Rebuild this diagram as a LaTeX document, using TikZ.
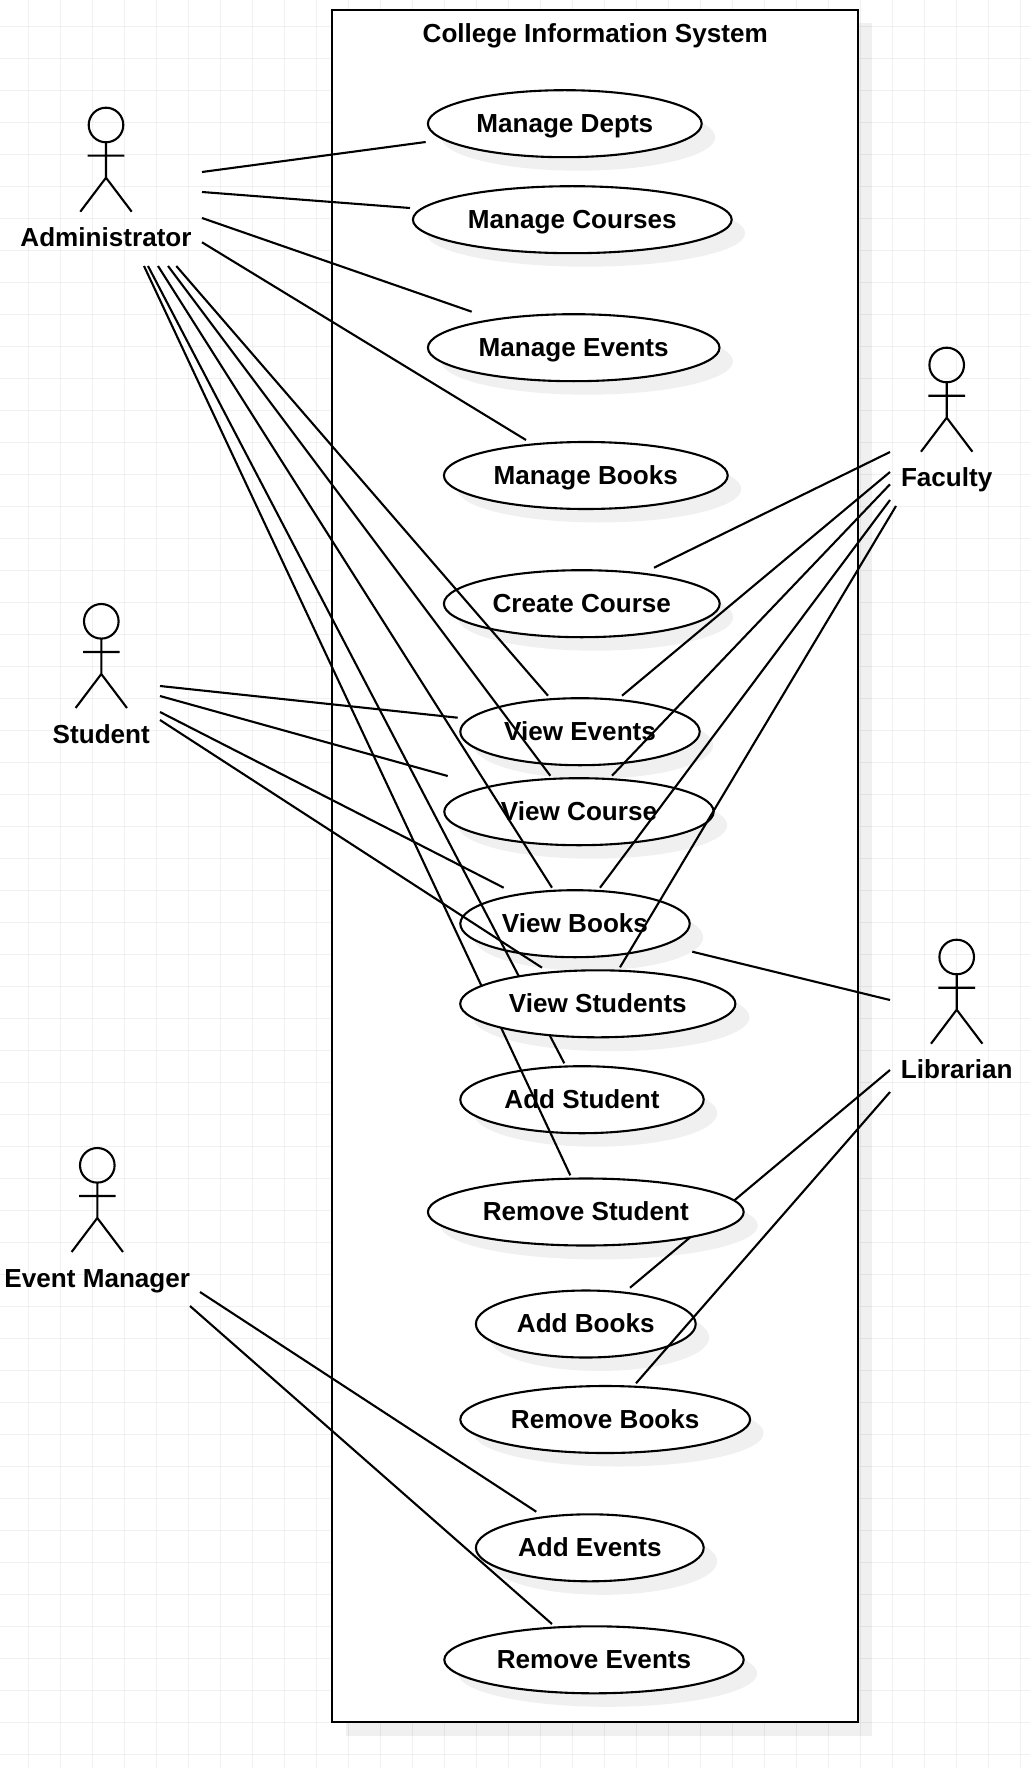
\documentclass[tikz,border=0pt]{standalone}
\usepackage{fontspec}
\setmainfont{Liberation Sans}
\usetikzlibrary{shapes.geometric,shadows}
\definecolor{gridc}{HTML}{F0F0F0}
\tikzset{
  lw/.style={line width=2.1pt,draw=black},
  uc/.style={ellipse,lw,fill=white,inner sep=0pt,outer sep=0pt,font=\fontsize{26.1}{30}\selectfont\bfseries,text height=17pt,text depth=0pt,minimum height=67pt},
  ucshadow/.style={drop shadow={shadow xshift=13.5pt,shadow yshift=-13.5pt,fill=black,opacity=.06}},
  link/.style={lw,line cap=butt},
  actorlabel/.style={inner sep=0pt,font=\fontsize{26.1}{30}\selectfont\bfseries,text height=17pt,text depth=0pt},
  head/.style={circle,lw,inner sep=0pt,outer sep=0pt,minimum size=34.6pt},
}
\newcommand{\usecasenode}[6][]{\node[uc,#1,minimum width={2*#5-1.2}] (#2) at (#3,#4) {#6};}
\newcommand{\usecasenoshadow}[4]{\fill[black,opacity=.06] (#2+13.5,#3+13.5) ellipse [x radius=#4,y radius=33.9];}
\newcommand{\actornode}[4]{%
  \node[head] (#1) at (#2,#3) {};
  \coordinate (#1-hip) at (#2,#3+52.7);
  \coordinate (#1-al) at (#2-18.3,#3+30.7);
  \coordinate (#1-ar) at (#2+18.3,#3+30.7);
  \coordinate (#1-fl) at (#2-25.7,#3+86.7);
  \coordinate (#1-fr) at (#2+25.7,#3+86.7);
  \draw[link] (#1.south) -- (#1-hip) (#1-al) -- (#1-ar) (#1-fl) -- (#1-hip) -- (#1-fr);
  \node[actorlabel] (#1-label) at (#2,#3+113.4) {#4};
}
\newcommand{\linkfrom}[5]{%
  \coordinate (#1a) at (#2,#3);
  \coordinate (#1b) at (#4,#5);
  \draw[link] (#1a) -- (#1b);
}
\begin{document}
\begin{tikzpicture}[x=1pt,y=-1pt]
\useasboundingbox (0,0) rectangle (1030,1768);
\fill[white] (0,0) rectangle (1030,1768);
% grid
\foreach \i in {0,...,31} \draw[gridc,line width=1pt] ({28.7+32*\i},0) -- ({28.7+32*\i},1768);
\foreach \i in {0,...,55} \draw[gridc,line width=1pt] (0,{26.7+32*\i}) -- (1030,{26.7+32*\i});
% system box
\fill[black,opacity=.06] (345.5,23.5) rectangle (872,1736);
\node[lw,fill=white,rectangle,inner sep=0pt,outer sep=0pt,minimum width=525.7pt,minimum height=1712pt] (system) at (595.15,866) {};
\node[inner sep=0pt,font=\fontsize{26.1}{30}\selectfont\bfseries,text height=17pt,text depth=0pt] (title) at (595.25,34) {College Information System};
% use cases under the connectors
\usecasenode[ucshadow]{depts}{564.8}{123.7}{137.5}{Manage Depts}
\usecasenode[ucshadow]{courses}{572.3}{219.7}{160}{Manage Courses}
\usecasenode[ucshadow]{mevents}{573.7}{347.7}{146.4}{Manage Events}
\usecasenode[ucshadow]{mbooks}{585.8}{475.5}{142.5}{Manage Books}
\usecasenode[ucshadow]{create}{581.8}{603.7}{138.5}{Create Course}
\usecasenode[ucshadow]{vevents}{580}{731.7}{120.3}{View Events}
\usecasenode[ucshadow]{vcourse}{579}{811.7}{135.3}{View Course}
\usecasenode[ucshadow]{vbooks}{575}{923.7}{115.3}{View Books}
\usecasenoshadow{vstudents}{597.8}{1003.8}{138.2}
\usecasenode[ucshadow]{astudent}{582}{1099.7}{122.3}{Add Student}
\usecasenoshadow{rstudent}{585.8}{1212}{158.5}
\usecasenode[ucshadow]{abooks}{585.8}{1324}{110.5}{Add Books}
\usecasenode[ucshadow]{rbooks}{605.2}{1419.5}{145.5}{Remove Books}
\usecasenode[ucshadow]{aevents}{589.8}{1547.8}{114.5}{Add Events}
\usecasenode[ucshadow]{revents}{594}{1659.8}{150.3}{Remove Events}
% actors
\actornode{admin}{106}{125}{Administrator}
\actornode{student}{101.3}{621.3}{Student}
\actornode{evmgr}{97.3}{1165.3}{Event Manager}
\actornode{faculty}{946.7}{365}{Faculty}
\actornode{librarian}{956.7}{957}{Librarian}
% connectors
\linkfrom{a1}{202}{172}{425.7}{142}
\linkfrom{a2}{202}{192}{410}{208}
\linkfrom{a3}{202}{218}{471.7}{311.7}
\linkfrom{a4}{202}{242.3}{526}{440}
\linkfrom{a5}{176.3}{266}{548}{695.7}
\linkfrom{a6}{168}{266}{550.3}{775.7}
\linkfrom{a7}{158}{266}{552}{887.7}
\linkfrom{a8}{148}{266}{564.3}{1063.3}
\linkfrom{a9}{144}{266}{570.3}{1175.3}
\linkfrom{s1}{160}{686}{457.7}{717.7}
\linkfrom{s2}{160}{696}{447.7}{776}
\linkfrom{s3}{160}{712}{503.7}{887.7}
\linkfrom{s4}{160}{720}{542}{967.7}
\linkfrom{f1}{890}{452}{654}{567.7}
\linkfrom{f2}{890}{472}{622}{695.7}
\linkfrom{f3}{890}{484.3}{612}{775.7}
\linkfrom{f4}{890}{500}{600}{887.7}
\linkfrom{f5}{896}{506}{620}{967.3}
\linkfrom{l1}{692.3}{951.7}{890}{1000}
\linkfrom{l2}{890}{1070}{630}{1287.7}
\linkfrom{l3}{890}{1092}{636}{1383.3}
\linkfrom{e1}{200}{1292}{536.3}{1511.7}
\linkfrom{e2}{190}{1306}{552}{1624}
% use cases above the connectors
\usecasenode{vstudents}{597.8}{1003.8}{138.2}{View Students}
\usecasenode{rstudent}{585.8}{1212}{158.5}{Remove Student}
\end{tikzpicture}
\end{document}
